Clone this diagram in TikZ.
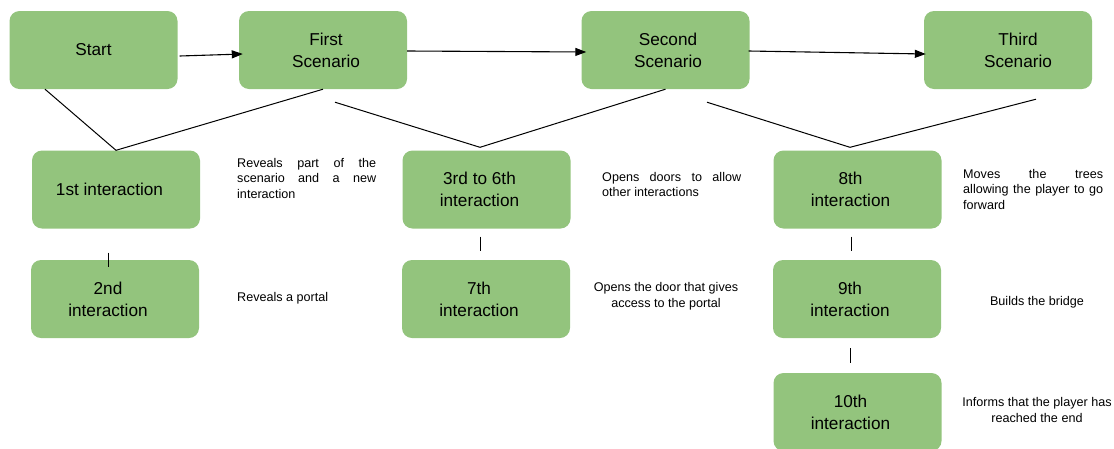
\documentclass[tikz,border=0pt]{standalone}
\usepackage{fontspec}
\setmainfont{Liberation Sans}
\usetikzlibrary{arrows.meta,positioning}
\definecolor{boxgreen}{HTML}{93C47D}
\tikzset{
    stagebox/.style={
        rectangle,
        rounded corners=10pt,
        fill=boxgreen,
        draw=none,
        minimum width=168pt,
        minimum height=78pt,
        inner sep=0pt
    },
    boxtext/.style={
        inner sep=0pt,
        align=center,
        font=\fontsize{17.2}{22}\selectfont
    },
    % box with its text a little off the middle
    stage/.style 2 args={
        stagebox,
        label={[boxtext, xshift=#1]center:{#2}}
    },
    % texts beside the boxes
    notetext/.style={
        inner sep=0pt,
        font=\fontsize{12.6}{15.5}\selectfont
    },
    flowarrow/.style={
        line width=1.1pt,
        black,
        -{Triangle[length=11pt, width=8pt]}
    },
    link/.style={
        line width=1pt,
        black
    }
}

\begin{document}
\begin{tikzpicture}[x=1pt,y=-1pt]
    \useasboundingbox (0,0) rectangle (1114,448);

    % scenarios
    \node[stage={0pt}{Start}]              (start)  at (93.5,50)  {};
    \node[stage={3pt}{First\\Scenario}]    (first)  at (323,50)   {};
    \node[stage={2.5pt}{Second\\Scenario}] (second) at (665.5,50) {};
    \node[stage={10pt}{Third\\Scenario}]   (third)  at (1008,50)  {};

    % interactions
    \node[stage={-6.5pt}{1st interaction}]     (i1)  at (116,189.5)   {};
    \node[stage={-7pt}{2nd\\interaction}]      (i2)  at (115,299)     {};
    \node[stage={-7pt}{3rd to 6th\\interaction}] (i36) at (486.5,189.5) {};
    \node[stage={-7pt}{7th\\interaction}]      (i7)  at (486,299)     {};
    \node[stage={-7pt}{8th\\interaction}]      (i8)  at (857.5,189.5) {};
    \node[stage={-7pt}{9th\\interaction}]      (i9)  at (857,299)     {};
    \node[stage={-7pt}{10th\\interaction}]     (i10) at (857.5,412)   {};

    \draw[flowarrow] ([shift={(2,6)}]start.east) -- ([shift={(4,4)}]first.west);
    \draw[flowarrow] ([shift={(0,1)}]first.east) -- ([shift={(5,2)}]second.west);
    \draw[flowarrow] ([shift={(-1,1)}]second.east) -- ([shift={(2,4)}]third.west);

    \draw[link] ([shift={(-48.5,0)}]start.south) -- (i1.north) -- (first.south);
    \draw[link] ([shift={(12,13)}]first.south) -- ([shift={(-6.5,-3)}]i36.north) -- (second.south);
    \draw[link] ([shift={(41.5,13)}]second.south) -- ([shift={(-7.5,-3)}]i8.north) -- ([shift={(28,10)}]third.south);

    \draw[link] ([shift={(-8,24)}]i1.south) -- ([shift={(-7,7)}]i2.north);
    \draw[link] ([shift={(-6.5,8)}]i36.south) -- ([shift={(-6,-9)}]i7.north);
    \draw[link] ([shift={(-6.5,8)}]i8.south) -- ([shift={(-6,-9)}]i9.north);
    \draw[link] ([shift={(-7,10)}]i9.south) -- ([shift={(-7.5,-10)}]i10.north);

    \node[notetext, anchor=north west, text width=139pt, align=justify] (n1) at (237,158)
        {Reveals part of the\linebreak scenario and a new\linebreak interaction};
    \node[notetext, anchor=west] (n2) at (237,298) {Reveals a portal};
    \node[notetext, anchor=north west, text width=139pt, align=justify] (n36) at (602,172)
        {Opens doors to allow\linebreak other interactions};
    \node[notetext, align=center] (n7) at (666,296) {Opens the door that gives\\access to the portal};
    \node[notetext, anchor=north west, text width=140pt, align=justify] (n8) at (963,169)
        {Moves the trees\linebreak allowing the player to go\linebreak forward};
    \node[notetext] (n9) at (1037,302) {Builds the bridge};
    \node[notetext, align=center] (n10) at (1037,410) {Informs that the player has\\reached the end};
\end{tikzpicture}
\end{document}
